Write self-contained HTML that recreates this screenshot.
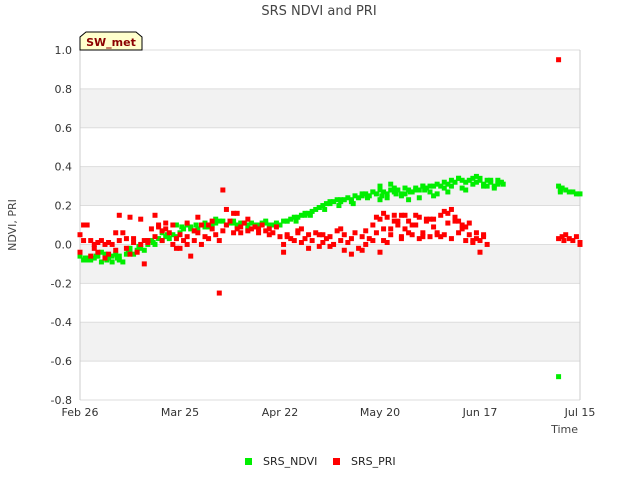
<!DOCTYPE html>
<html><head><meta charset="utf-8"><style>
body{margin:0;background:#fff;font-family:"DejaVu Sans","Liberation Sans",sans-serif}
svg text{font-family:"DejaVu Sans","Liberation Sans",sans-serif}
</style></head><body>
<svg id="chart" width="640" height="480" xmlns="http://www.w3.org/2000/svg">
<text x="319" y="15" text-anchor="middle" font-size="13" fill="#444">SRS NDVI and PRI</text>
<g id="bands"></g>
<g id="grid"></g>
<g id="yticks"></g>
<g id="xticks"></g>
<g id="marks"></g>
<text x="16" y="225" transform="rotate(-90 16 225)" text-anchor="middle" font-size="11" fill="#444">NDVI, PRI</text>
<text x="578" y="433" text-anchor="end" font-size="11" fill="#444">Time</text>
<g>
<path d="M80,50 L80,37 L86,32 L136,32 L142,37 L142,50 Z" fill="#ffffcc" stroke="#000" stroke-width="1"/>
<text x="111" y="46" text-anchor="middle" font-size="11" font-weight="bold" fill="#8b0000">SW_met</text>
</g>
<g><rect x="245" y="458" width="7" height="7" fill="#00ee00"/><text x="263" y="465" font-size="11" fill="#222">SRS_NDVI</text></g>
<g><rect x="333" y="458" width="7" height="7" fill="#ff0000"/><text x="351" y="465" font-size="11" fill="#222">SRS_PRI</text></g>
</svg>
<script>
const xTickLabels=["Feb 26","Mar 25","Apr 22","May 20","Jun 17","Jul 15"];
const xTickDays=[0,28,56,84,112,140];
const yTicks=[1.0,0.8,0.6,0.4,0.2,0.0,-0.2,-0.4,-0.6,-0.8];
const ndviDays=[
0,1,2,3,4,5,6,7,8,9,
10,11,12,13,14,15,16,17,18,19,
20,21,22,23,24,25,26,27,28,29,
30,31,32,33,34,35,36,37,38,39,
40,41,42,43,44,45,46,47,48,49,
50,51,52,53,54,55,56,57,58,59,
60,61,62,63,64,65,66,67,68,69,
70,71,72,73,74,75,76,77,78,79,
80,81,82,83,84,85,86,87,88,89,
90,91,92,93,94,95,96,97,98,99,
100,101,102,103,104,105,106,107,108,109,
110,111,112,113,114,115,116,117,118,118.5,
2,6,9,11,14,19,23,27,31,35,
38,43,47,52,58,63,67,70,73,76,
79,82,84,86,88,90,92,94,96,98,
100,102,104,106,108,110,112,114,116,117,
84,87,91,95,99,103,107,111,113,115,
134,134.5,135,136,137,138,139,140,134.5,134,
1.5,4.5,7.5,10.5,13.5,16.5,20.5,24.5,28.5,32.5,
60.5,64.5,68.5,72.5,76.5,80.5,84.5,88.5,92.5,96.5];
const ndviVals=[
-0.06,-0.08,-0.07,-0.08,-0.07,-0.06,-0.09,-0.05,-0.07,-0.06,
-0.05,-0.08,-0.09,-0.05,-0.04,-0.05,-0.03,-0.02,-0.03,0.0,
0.02,0.0,0.03,0.02,0.04,0.03,0.05,0.04,0.06,0.08,
0.1,0.09,0.07,0.08,0.1,0.11,0.09,0.1,0.11,0.12,
0.12,0.1,0.11,0.12,0.1,0.11,0.11,0.1,0.11,0.1,
0.1,0.11,0.11,0.1,0.1,0.11,0.1,0.12,0.12,0.13,
0.14,0.14,0.15,0.15,0.16,0.17,0.18,0.19,0.2,0.21,
0.22,0.22,0.23,0.22,0.23,0.24,0.23,0.25,0.24,0.26,
0.26,0.25,0.27,0.26,0.28,0.27,0.26,0.28,0.27,0.28,
0.26,0.29,0.28,0.27,0.29,0.28,0.3,0.29,0.3,0.3,
0.31,0.3,0.32,0.31,0.33,0.32,0.34,0.33,0.32,0.33,
0.34,0.32,0.33,0.31,0.33,0.32,0.3,0.33,0.32,0.31,
-0.08,-0.04,-0.09,-0.06,-0.02,0.02,0.06,0.1,0.08,0.09,
0.13,0.11,0.08,0.12,0.12,0.16,0.19,0.21,0.23,0.22,
0.25,0.27,0.23,0.24,0.29,0.25,0.23,0.28,0.3,0.27,
0.26,0.29,0.3,0.34,0.28,0.31,0.34,0.3,0.29,0.31,
0.3,0.31,0.26,0.24,0.25,0.27,0.29,0.35,0.3,0.33,
0.3,0.28,0.29,0.28,0.27,0.27,0.26,0.26,0.27,-0.68,
-0.07,-0.06,-0.08,-0.07,-0.03,-0.01,0.01,0.05,0.09,0.1,
0.12,0.15,0.18,0.2,0.21,0.24,0.25,0.26,0.27,0.28];
const priDays=[
0,0,1,2,3,3,4,5,5,6,
7,8,8,9,10,11,11,12,13,13,
14,15,15,16,17,18,18,19,20,21,
21,22,23,23,24,25,26,26,27,28,
28,29,30,30,31,32,32,33,34,34,
35,36,37,37,38,39,39,40,40,41,
42,43,43,44,45,45,46,47,48,49,
50,51,52,53,54,55,56,57,57,58,
59,60,61,62,62,63,64,65,66,67,
68,68,69,70,71,72,73,74,74,75,
76,77,78,79,80,80,81,82,83,84,
85,85,86,87,88,89,90,90,91,92,
93,94,95,96,97,98,99,100,101,102,
103,104,105,106,107,108,109,110,111,112,
113,114,1,4,7,10,14,17,19,22,
24,27,30,33,36,41,44,47,50,53,
58,61,64,67,70,73,76,79,82,84,
86,88,90,92,94,96,98,100,102,104,
106,108,110,112,83,85,87,89,91,93,
95,97,99,101,103,105,107,109,111,113,
134,135,135.5,136,137,138,139,140,140,134];
const priVals=[
0.05,-0.04,0.02,0.1,0.02,-0.06,0.0,0.01,-0.04,0.02,
-0.07,0.01,-0.05,0.0,-0.03,0.15,0.02,0.06,-0.02,0.03,
-0.05,0.01,0.03,-0.04,0.0,0.02,-0.1,0.01,0.08,0.04,
0.15,0.1,0.02,0.07,0.11,0.06,0.0,0.1,0.03,0.05,
-0.02,0.02,0.0,0.04,-0.06,0.02,0.07,0.06,0.0,0.1,
0.04,0.03,0.08,0.12,0.05,0.02,-0.25,0.28,0.07,0.1,
0.12,0.06,0.16,0.08,0.09,0.06,0.11,0.07,0.08,0.09,
0.06,0.1,0.07,0.08,0.06,0.09,0.04,0.0,-0.04,0.05,
0.03,0.02,0.06,0.01,0.08,0.03,0.05,0.02,0.06,-0.01,
0.05,0.01,0.03,0.04,0.0,0.07,0.02,-0.03,0.05,0.01,
0.03,0.06,-0.02,0.04,0.07,0.0,0.03,0.1,0.06,0.13,
0.02,0.08,0.14,0.05,0.12,0.1,0.03,0.15,0.08,0.12,
0.05,0.1,0.14,0.06,0.12,0.04,0.13,0.06,0.15,0.05,
0.11,0.03,0.14,0.06,0.1,0.02,0.05,0.01,0.03,0.02,
0.04,0.0,0.1,-0.02,0.0,0.06,0.14,0.13,0.02,0.09,
0.08,-0.02,0.11,0.14,0.1,0.18,0.16,0.13,0.08,0.05,
0.04,0.07,-0.02,0.05,-0.01,0.08,-0.05,-0.03,0.02,-0.04,
0.01,0.15,0.04,0.06,0.15,0.04,0.13,0.05,0.17,0.18,
0.12,0.09,0.02,-0.04,0.14,0.16,0.08,0.12,0.15,0.1,
0.03,0.13,0.09,0.04,0.16,0.12,0.08,0.11,0.06,0.05,
0.03,0.04,0.02,0.05,0.03,0.02,0.04,0.01,0.0,0.95];
const X0=80,X1=580,Y0=50,Y1=400;
const xs=d=>X0+d/140*(X1-X0);
const ys=v=>Y1-(v+0.8)/1.8*(Y1-Y0);
const NS="http://www.w3.org/2000/svg";
function mk(tag,parent){const e=document.createElementNS(NS,tag);document.getElementById(parent).appendChild(e);return e;}
[0.8,0.4,0.0,-0.4].forEach(hi=>{
  const r=mk('rect','bands');
  
  
  r.setAttribute('x',X0);r.setAttribute('y',ys(hi));r.setAttribute('width',X1-X0);r.setAttribute('height',ys(hi-0.2)-ys(hi));r.setAttribute('fill','#f2f2f2');
});
yTicks.forEach(t=>{
  const l=mk('line','grid');
  
  
  l.setAttribute('x1',X0);l.setAttribute('x2',X1);l.setAttribute('y1',ys(t));l.setAttribute('y2',ys(t));l.setAttribute('stroke','#dddddd');
  const tx=mk('text','yticks');
  
  
  tx.setAttribute('x',72);tx.setAttribute('y',ys(t)+4);tx.setAttribute('text-anchor','end');tx.setAttribute('font-size','11');tx.setAttribute('fill','#333');
  tx.textContent=t.toFixed(1);
});
[X0,X1].forEach(x=>{const l=mk('line','grid');
  
  
  l.setAttribute('x1',x);l.setAttribute('x2',x);l.setAttribute('y1',Y0);l.setAttribute('y2',Y1);l.setAttribute('stroke','#cccccc');});
xTickDays.forEach((d,i)=>{
  const tx=mk('text','xticks');
  
  
  tx.setAttribute('x',xs(d));tx.setAttribute('y',416);tx.setAttribute('text-anchor','middle');tx.setAttribute('font-size','11');tx.setAttribute('fill','#333');
  tx.textContent=xTickLabels[i];
});
function series(days,vals,color,name){
  const n=Math.min(days.length,vals.length);
  for(let i=0;i<n;i++){const r=mk('rect','marks');
    
    
    r.setAttribute('x',xs(days[i])-2.5);r.setAttribute('y',ys(vals[i])-2.5);r.setAttribute('width',5);r.setAttribute('height',5);r.setAttribute('fill',color);}
}
series(ndviDays,ndviVals,'#00ee00','ndvi-point');
series(priDays,priVals,'#ff0000','pri-point');
</script>
</body></html>
